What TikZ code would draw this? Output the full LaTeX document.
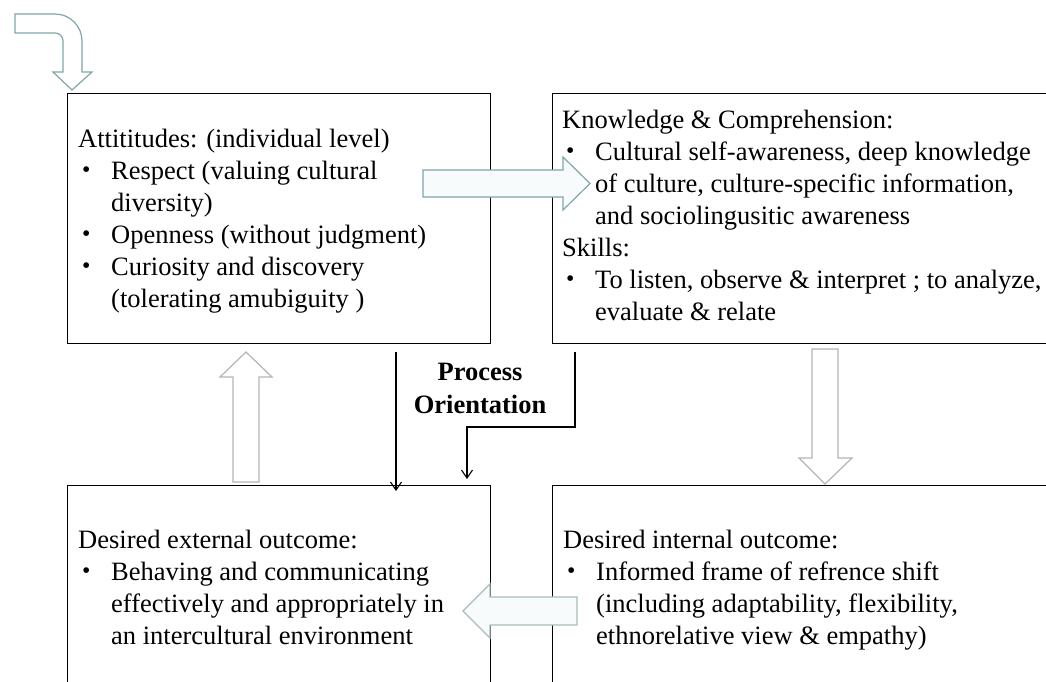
\documentclass[tikz,border=0pt]{standalone}
\usepackage{fontspec}
\setmainfont{Liberation Serif}
\usetikzlibrary{arrows.meta}
\definecolor{tealline}{HTML}{7FA7AA}
\definecolor{tealfill}{HTML}{F8FBFB}
\definecolor{grayline}{HTML}{B5B5B5}
\definecolor{mixline}{HTML}{A9BCBD}
% bullet and continuation indents for the box texts
\newcommand\bul{\leavevmode\makebox[33pt][l]{\hspace{4pt}\raisebox{1.2pt}{\scalebox{0.9}{\textbullet}}}}
\newcommand\cont{\leavevmode\hspace*{33pt}}
\newcommand\boxfont{\fontsize{26.5}{32}\selectfont}
\begin{document}
\begin{tikzpicture}[x=1pt,y=-1pt,
  panel/.style={draw=black,line width=1.4pt,rectangle,anchor=north west,inner sep=0pt},
  txt/.style={anchor=base west,inner sep=0pt},
  flow/.style={draw=black,line width=1.1pt,-{Straight Barb[length=8pt,width=11pt]}},
  blockarrow/.style={line width=1.2pt,fill=tealfill,line join=miter}]
\useasboundingbox (0,0) rectangle (1046,681);
\clip (0,0) rectangle (1046,681);
\fill[white] (0,0) rectangle (1046,681);

% the four panels
\node[panel,minimum width=423pt,minimum height=250pt] (att) at (67,93) {};
\node[panel,minimum width=600pt,minimum height=250pt] (know) at (552,93) {};
\node[panel,minimum width=423pt,minimum height=300pt] (ext) at (67,485) {};
\node[panel,minimum width=600pt,minimum height=300pt] (int) at (552,485) {};

% panel texts
\node[txt] (atttext) at (78,147) {\parbox[t]{420pt}{\boxfont
Attititudes: (individual level)\\
\bul Respect (valuing cultural\\
\cont diversity)\\
\bul Openness (without judgment)\\
\bul Curiosity and discovery\\
\cont (tolerating amubiguity )}};

\node[txt] (knowtext) at (562,128) {\parbox[t]{520pt}{\boxfont
Knowledge \& Comprehension:\\
\bul Cultural self-awareness, deep knowledge\\
\cont of culture, culture-specific information,\\
\cont and sociolingusitic awareness\\
Skills:\\
\bul To listen, observe \& interpret ; to analyze,\\
\cont evaluate \& relate}};

\node[txt] (exttext) at (78,548) {\parbox[t]{420pt}{\boxfont
Desired external outcome:\\
\bul Behaving and communicating\\
\cont effectively and appropriately in\\
\cont an intercultural environment}};

\node[txt] (inttext) at (563,548) {\parbox[t]{520pt}{\boxfont
Desired internal outcome:\\
\bul Informed frame of refrence shift\\
\cont (including adaptability, flexibility,\\
\cont ethnorelative view \& empathy)}};

% process orientation label and its connectors
\node[anchor=base,inner sep=0pt] (proc) at (480,380) {\parbox[t]{200pt}{\centering\bfseries\fontsize{26.5}{33}\selectfont Process\\Orientation}};
\coordinate (p1) at (396,352);
\coordinate (p1e) at (396,491);
\coordinate (p2) at (575,352);
\coordinate (p2c) at (575,427);
\coordinate (p2d) at (467,427);
\coordinate (p2e) at (467,479);
\draw[flow] (p1) -- (p1e);
\draw[flow] (p2) -- (p2c) -- (p2d) -- (p2e);

% entry arrow bending down onto the first panel
\draw[blockarrow,draw=tealline,fill=white]
  (15,14) -- (55,14) .. controls (70,14) and (82,26) .. (82,41)
  -- (82,72) -- (92,72) -- (72,90) -- (53,72) -- (63,72) -- (63,41)
  .. controls (63,36.5) and (59.5,33) .. (55,33) -- (15,33) -- cycle;

% attitudes -> knowledge
\draw[blockarrow,draw=tealline]
  (423,170) -- (563,170) -- (563,157) -- (590,183.5) -- (563,210) -- (563,197) -- (423,197) -- cycle;
% knowledge -> internal outcome
\draw[blockarrow,draw=grayline,fill=white]
  (812,349) -- (838,349) -- (838,458) -- (852,458) -- (825,484) -- (799,458) -- (812,458) -- cycle;
% internal -> external outcome
\draw[blockarrow,draw=mixline]
  (577,597) -- (490,597) -- (490,584) -- (463,611) -- (490,638) -- (490,625) -- (577,625) -- cycle;
% external outcome -> attitudes
\draw[blockarrow,draw=grayline,fill=white]
  (233,482) -- (233,377) -- (220,377) -- (246,352) -- (272,377) -- (259,377) -- (259,482) -- cycle;
\end{tikzpicture}
\end{document}
